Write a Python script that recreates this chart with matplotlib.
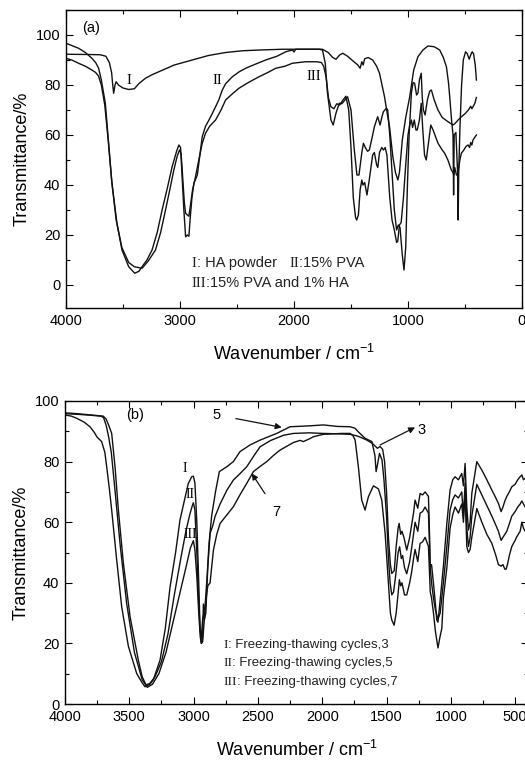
import matplotlib
matplotlib.use("Agg")
import matplotlib.pyplot as plt
from matplotlib.ticker import MultipleLocator
from matplotlib.offsetbox import TextArea, HPacker, AnnotationBbox

plt.rcParams['font.family'] = ['Liberation Sans', 'DejaVu Sans']
plt.rcParams['mathtext.default'] = 'regular'

# ---------------- panel (a): HA powder, 15% PVA, 15% PVA + 1% HA ----------------
wn_a1 = [4000, 3800, 3700, 3650, 3620, 3600, 3590, 3582, 3570, 3560, 3540, 3500, 3450, 3400,
         3362, 3303, 3250, 3186, 3050, 2893, 2750, 2600, 2450, 2300, 2100, 1900, 1750, 1700,
         1660, 1632, 1600, 1573, 1530, 1480, 1440, 1420, 1405, 1393, 1380, 1350, 1310, 1275,
         1250, 1206, 1180, 1162, 1133, 1110, 1089, 1075, 1050, 1020, 986, 950, 913, 869, 825,
         770, 722, 690, 663, 645, 634, 618, 605, 600, 595, 580, 565, 560, 555, 545, 530, 515,
         507, 495, 480, 463, 450, 437, 425, 410, 400]
tr_a1 = [92.3, 92.2, 92.1, 91.5, 89, 85, 80, 76.7, 80, 81.3, 80, 78.8, 78.2, 78.5,
         80.5, 82.7, 84, 85.3, 88, 90, 91.8, 93, 93.7, 94, 94.3, 94.3, 94.3, 93,
         91, 90.3, 92, 92.7, 91.5, 89.5, 88, 86.7, 89.3, 88, 90.5, 91, 90, 87.5,
         84.7, 75.3, 68, 63.3, 51.3, 45, 42, 45, 58, 67, 75, 86, 91.3, 94, 95.6,
         95.3, 94, 91, 87.3, 81, 75.3, 66, 60, 36, 60, 61, 45, 26, 45, 62, 80, 90,
         91.3, 93.3, 92.5, 90.3, 92, 93.3, 92.5, 88, 82]

wn_a2 = [4000, 3950, 3890, 3830, 3773, 3740, 3714, 3690, 3655, 3626, 3597, 3553, 3509, 3450,
         3397, 3360, 3333, 3290, 3245, 3200, 3157, 3110, 3069, 3030, 3010, 2995, 2980, 2966,
         2951, 2935, 2922, 2910, 2895, 2878, 2848, 2820, 2805, 2776, 2746, 2718, 2688, 2660,
         2629, 2600, 2541, 2480, 2424, 2330, 2248, 2150, 2072, 2013, 2000, 1985, 1900, 1780,
         1750, 1726, 1706, 1676, 1656, 1632, 1603, 1580, 1530, 1500, 1471, 1448, 1430, 1405,
         1391, 1375, 1355, 1339, 1310, 1295, 1266, 1245, 1230, 1216, 1190, 1178, 1160, 1140,
         1120, 1100, 1085, 1070, 1050, 1035, 1020, 1005, 990, 970, 955, 942, 925, 913, 900,
         884, 875, 865, 850, 830, 810, 795, 770, 737, 700, 649, 605, 590, 560, 532, 500, 470,
         450, 440, 430, 415, 400]
tr_a2 = [96.7, 95.8, 94.7, 93, 90.7, 89, 86.7, 82, 72.7, 56.7, 40.7, 24.7, 14, 7.3,
         4.7, 5.5, 7.3, 10, 14, 21, 30, 39, 47.3, 53.5, 56, 55, 42, 30,
         19.3, 20, 19.5, 27, 35, 40.7, 44, 54, 59.3, 63.5, 66, 68.5, 71.3, 74,
         78, 80.5, 83.3, 85.3, 86.7, 88.5, 90, 91.5, 93.3, 94, 93.2, 94.3, 94.3, 94.3,
         94, 88.7, 76.7, 66, 64, 68.7, 72.7, 72.5, 75.3, 70, 54, 44, 44, 53,
         56.7, 55, 53.5, 54, 60, 63.3, 67.3, 64, 67, 69.3, 70.7, 70, 60, 45,
         30, 22, 24, 23, 12, 6, 15, 40, 60, 77, 81, 80.7, 76, 76.7, 82,
         84.7, 75, 70, 68, 74, 77.5, 78, 74, 70, 67, 65.3, 64, 64.5, 66, 67.3, 68.5, 70,
         71.5, 70.5, 71.3, 72.5, 75]

wn_a3 = [4000, 3950, 3890, 3830, 3773, 3740, 3714, 3690, 3660, 3630, 3600, 3560, 3510, 3450,
         3400, 3333, 3280, 3215, 3170, 3127, 3090, 3054, 3025, 3004, 2990, 2975, 2962, 2951,
         2935, 2922, 2905, 2890, 2864, 2835, 2805, 2776, 2740, 2688, 2640, 2600, 2540, 2483,
         2400, 2307, 2230, 2160, 2080, 2014, 1900, 1800, 1760, 1740, 1719, 1697, 1676, 1650,
         1625, 1600, 1570, 1545, 1520, 1500, 1480, 1460, 1450, 1435, 1420, 1405, 1395, 1380,
         1360, 1340, 1310, 1295, 1275, 1265, 1250, 1230, 1215, 1200, 1185, 1160, 1140, 1120,
         1100, 1090, 1075, 1060, 1040, 1020, 1000, 985, 970, 960, 945, 930, 919, 900, 884,
         870, 855, 840, 820, 800, 780, 737, 700, 678, 650, 620, 605, 598, 590, 575, 565, 555,
         545, 532, 510, 490, 473, 460, 450, 440, 430, 415, 400]
tr_a3 = [90.7, 90, 88.7, 87.5, 86, 85, 83.5, 80, 72, 58, 42, 26, 15, 9,
         7.3, 6.7, 9.5, 14, 21, 30, 38, 46, 51.5, 54, 52.5, 42, 33, 28.7,
         28, 27.5, 33, 38, 43.3, 50, 56.7, 60.7, 63.5, 66, 70, 74, 76.5, 78.7,
         81, 83.3, 85, 86.7, 87.5, 88.7, 89.3, 89.3, 89, 87.5, 83.3, 74.7, 71.3, 70.5,
         72.5, 72, 74, 75.5, 70, 55, 35, 27, 26, 28, 38, 42, 40, 41,
         36, 42, 52, 53, 48, 47, 53, 55, 54, 55, 52, 35, 26, 22,
         17, 17.5, 24, 25, 35, 48, 60, 64, 66, 63, 66, 62, 62, 66, 72.7,
         62, 52, 50, 57, 64, 62, 56.7, 54, 52.7, 50, 46, 45, 44, 47, 44, 44, 47,
         50, 52.7, 54, 55.5, 56, 55, 57, 56, 58, 59, 60]

# ---------------- panel (b): freezing-thawing cycles 3, 5, 7 ----------------
wn_b1 = [4000, 3950, 3909, 3850, 3806, 3770, 3753, 3715, 3690, 3676, 3655, 3637, 3598, 3559,
         3507, 3442, 3400, 3378, 3340, 3313, 3261, 3220, 3183, 3140, 3106, 3070, 3041, 3015,
         3002, 2990, 2975, 2960, 2950, 2940, 2930, 2924, 2915, 2905, 2890, 2872, 2850, 2834,
         2794, 2742, 2691, 2640, 2587, 2530, 2483, 2400, 2300, 2224, 2100, 2000, 1900, 1783,
         1731, 1700, 1653, 1610, 1571, 1550, 1530, 1515, 1500, 1485, 1470, 1459, 1440, 1425,
         1410, 1402, 1390, 1380, 1365, 1343, 1320, 1303, 1290, 1278, 1257, 1239, 1220, 1200,
         1174, 1165, 1161, 1150, 1135, 1120, 1109, 1100, 1083, 1058, 1031, 1006, 985, 967,
         941, 915, 902, 889, 876, 863, 850, 837, 798, 759, 720, 681, 650, 630, 609, 595, 580,
         565, 545, 526, 500, 480, 461, 448, 435, 422, 400]
tr_b1 = [95.4, 95, 94.3, 93, 91.5, 89.5, 88.2, 86.6, 83, 78.3, 71, 64, 47.5, 32,
         19, 10, 7, 5.7, 6.5, 8, 14.5, 25, 38.7, 50, 60.7, 67.5, 72.8, 75,
         75.2, 73, 60, 40, 25, 20, 22, 33, 28, 30, 45, 56.3, 59, 61.8,
         66, 70.5, 73.9, 76, 78.3, 82, 84.9, 87, 88.7, 89.3, 89.5, 89.3, 89.2, 89,
         88.5, 88, 87.1, 86, 84.4, 85, 84, 80, 70, 55, 46, 43.1, 44, 52,
         58, 59.6, 56, 57, 55, 50.8, 55, 59.6, 63, 67.3, 64.6, 69.5, 69, 70,
         68.5, 55, 45.4, 46, 39.8, 33, 27.7, 27, 34.3, 45.4, 59.6, 70.6, 74, 75,
         74, 76.1, 72, 79.4, 65.1, 57.4, 60, 69.5, 80, 77.2, 74, 70.6, 68, 66.2, 63.5, 65, 67,
         68.5, 70, 71.7, 72.5, 74, 75, 75.6, 74, 74.5, 75]

wn_b2 = [4000, 3900, 3800, 3702, 3680, 3660, 3637, 3611, 3585, 3546, 3494, 3430, 3400, 3370,
         3340, 3300, 3250, 3200, 3150, 3100, 3060, 3030, 3010, 3002, 2990, 2975, 2960, 2950,
         2940, 2930, 2920, 2910, 2895, 2880, 2860, 2830, 2800, 2742, 2691, 2639, 2561, 2483,
         2354, 2250, 2100, 1991, 1880, 1783, 1745, 1719, 1667, 1614, 1590, 1581, 1570, 1555,
         1535, 1520, 1500, 1485, 1472, 1459, 1445, 1430, 1410, 1398, 1385, 1375, 1360, 1343,
         1320, 1303, 1290, 1278, 1257, 1239, 1220, 1200, 1174, 1160, 1150, 1135, 1120, 1100,
         1083, 1058, 1031, 1006, 985, 967, 941, 915, 902, 889, 876, 863, 850, 837, 798, 759,
         720, 681, 650, 630, 609, 595, 580, 565, 545, 526, 500, 480, 461, 448, 435, 422, 400]
tr_b2 = [96.1, 95.8, 95.4, 95, 94, 92, 89.3, 78.3, 64, 46.4, 28.8, 14.5, 9, 6.3,
         6.8, 9, 14, 23, 36, 48, 57, 62.5, 65.5, 66.4, 64, 50, 33, 25,
         22, 28, 30, 33, 42, 53, 62, 70, 76.7, 78.3, 80, 83.3, 85.5, 87.1,
         89.3, 91.5, 91.8, 92.1, 91.6, 91.5, 91, 89.8, 87.7, 86.6, 82, 76.7, 79, 82.7,
         80.5, 74, 62, 48, 40, 36, 37, 42, 50, 51.9, 48, 49, 45, 43,
         47, 52, 56, 60, 57, 63, 63.5, 65, 63, 45, 40, 35, 31, 28,
         30, 40, 52, 64, 67.5, 69, 68, 70, 62, 73, 58, 52, 55, 62, 72.5, 69,
         65.5, 62, 59, 57, 54, 55, 56, 57, 59.5, 62, 63.5, 65, 66, 67, 66, 65, 66]

wn_b3 = [4000, 3900, 3800, 3720, 3700, 3680, 3660, 3640, 3610, 3570, 3520, 3460, 3400, 3360,
         3320, 3270, 3215, 3160, 3110, 3060, 3025, 3002, 2990, 2975, 2960, 2948, 2940, 2930,
         2920, 2905, 2890, 2872, 2846, 2820, 2794, 2740, 2691, 2640, 2587, 2535, 2480, 2431,
         2380, 2328, 2224, 2172, 2147, 2100, 2069, 1991, 1850, 1783, 1760, 1744, 1719, 1693,
         1667, 1641, 1602, 1563, 1537, 1511, 1485, 1470, 1459, 1441, 1425, 1415, 1400, 1390,
         1380, 1360, 1343, 1320, 1303, 1290, 1278, 1257, 1239, 1220, 1200, 1174, 1160, 1150,
         1135, 1120, 1100, 1085, 1070, 1058, 1031, 1006, 985, 967, 941, 915, 902, 889, 876,
         863, 850, 837, 798, 759, 720, 681, 650, 630, 609, 595, 580, 570, 560, 545, 526, 500,
         490, 461, 448, 435, 422, 400]
tr_b3 = [95.8, 95.6, 95.3, 95, 94.5, 92, 88, 83, 70, 52, 33, 17, 8, 5.5,
         6.5, 10, 17, 27, 36, 45, 51.5, 53.9, 51, 42, 30, 22, 20, 20.5,
         26, 34, 39, 40, 50.8, 56, 59.6, 62.5, 65.1, 69, 72.8, 76.7, 78.5, 80,
         82, 83.8, 86.3, 87, 86.6, 87.5, 88.2, 89, 89.3, 89.3, 88.5, 87.1, 78.3, 67.3,
         64, 68.4, 72, 71, 67.3, 56.3, 39.8, 30, 27.7, 26, 30, 34.3, 41, 39,
         40, 36, 36, 40, 44, 48, 51, 47, 53, 53.5, 55, 52, 37, 35,
         30, 24, 18.5, 22, 25, 35, 45, 58, 62.5, 65, 63, 66, 60, 70, 52,
         50, 51, 55, 64.5, 60, 56, 53, 49, 46, 45.5, 46, 44.5, 44.5, 46, 49, 52, 54,
         55, 57, 60, 58, 57, 59]


def mixed_text(ax, x, y, parts, size):
    # roman numeral in serif, rest in sans, placed left-aligned at (x, y)
    areas = [TextArea(t, textprops=dict(family=f, size=size, color='#222222')) for t, f in parts]
    box = HPacker(children=areas, align='baseline', pad=0, sep=0)
    ab = AnnotationBbox(box, (x, y), xycoords='data', box_alignment=(0, 0.5),
                        frameon=False, pad=0, annotation_clip=False)
    ax.add_artist(ab)


def style_axes(ax):
    ax.tick_params(which='both', direction='in', top=True, right=True, labelsize=10.5, pad=4)
    ax.tick_params(which='major', length=5, width=0.8)
    ax.tick_params(which='minor', length=3, width=0.8)
    for s in ax.spines.values():
        s.set_linewidth(1.0)
    ax.set_ylabel('Transmittance/%', fontsize=13, labelpad=4)
    ax.set_xlabel('Wavenumber / cm$^{-1}$', fontsize=13, labelpad=12)


fig = plt.figure(figsize=(5.25, 7.64), dpi=100)
serif = 'Liberation Serif'
sans = 'Liberation Sans'
lc = '#111111'

# --- (a)
ax1 = fig.add_axes([66 / 525, 1 - 308 / 764, 456 / 525, 298 / 764])
ax1.plot(wn_a1, tr_a1, color=lc, lw=1.0)
ax1.plot(wn_a2, tr_a2, color=lc, lw=1.0)
ax1.plot(wn_a3, tr_a3, color=lc, lw=1.0)
ax1.set_xlim(4000, 0)
ax1.set_ylim(-9.2, 110)
ax1.xaxis.set_major_locator(MultipleLocator(1000))
ax1.xaxis.set_minor_locator(MultipleLocator(500))
ax1.yaxis.set_major_locator(MultipleLocator(20))
ax1.yaxis.set_minor_locator(MultipleLocator(10))
style_axes(ax1)
ax1.text(0.036, 0.94, '(a)', transform=ax1.transAxes, fontsize=10.5, va='center')
ax1.text(3450, 82, 'I', family=serif, fontsize=10.5, ha='center', va='center')
ax1.text(2672, 82, 'II', family=serif, fontsize=10.5, ha='center', va='center')
ax1.text(1830, 83.5, 'III', family=serif, fontsize=10.5, ha='center', va='center')
mixed_text(ax1, 2896, 8.8, [('I', serif), (': HA powder   ', sans), ('II', serif), (':15% PVA', sans)], 10.5)
mixed_text(ax1, 2896, 0.8, [('III', serif), (':15% PVA and 1% HA', sans)], 10.5)

# --- (b)
ax2 = fig.add_axes([65 / 525, 1 - 704 / 764, 463 / 525, 303 / 764])
ax2.plot(wn_b1, tr_b1, color=lc, lw=1.0)
ax2.plot(wn_b2, tr_b2, color=lc, lw=1.0)
ax2.plot(wn_b3, tr_b3, color=lc, lw=1.0)
ax2.set_xlim(4000, 400)
ax2.set_ylim(0, 100)
ax2.xaxis.set_major_locator(MultipleLocator(500))
ax2.xaxis.set_minor_locator(MultipleLocator(250))
ax2.yaxis.set_major_locator(MultipleLocator(20))
ax2.yaxis.set_minor_locator(MultipleLocator(10))
style_axes(ax2)
ax2.text(3456, 95.4, '(b)', fontsize=10.5, ha='center', va='center')
ax2.text(3067, 77.8, 'I', family=serif, fontsize=10, ha='center', va='center')
ax2.text(3028, 69, 'II', family=serif, fontsize=10, ha='center', va='center')
ax2.text(3028, 56, 'III', family=serif, fontsize=10, ha='center', va='center')

arrow = dict(arrowstyle='-|>', color=lc, lw=0.9, mutation_scale=9)
ax2.annotate('5', xy=(2315, 91.3), xytext=(2820, 95.4), fontsize=10.5, ha='center', va='center',
             arrowprops=dict(arrow, shrinkA=9, shrinkB=0))
ax2.annotate('', xy=(1278, 91.3), xytext=(1550, 85.5), arrowprops=dict(arrow, shrinkA=0, shrinkB=0))
ax2.text(1226, 90.4, '3', fontsize=10.5, ha='center', va='center')
ax2.annotate('7', xy=(2548, 76.1), xytext=(2354, 63.5), fontsize=10.5, ha='center', va='center',
             arrowprops=dict(arrow, shrinkA=7, shrinkB=0))

mixed_text(ax2, 2769, 19.5, [('I', serif), (': Freezing-thawing cycles,3', sans)], 9.5)
mixed_text(ax2, 2769, 13.4, [('II', serif), (': Freezing-thawing cycles,5', sans)], 9.5)
mixed_text(ax2, 2769, 7.4, [('III', serif), (': Freezing-thawing cycles,7', sans)], 9.5)

fig.savefig('out.png', dpi=100)
